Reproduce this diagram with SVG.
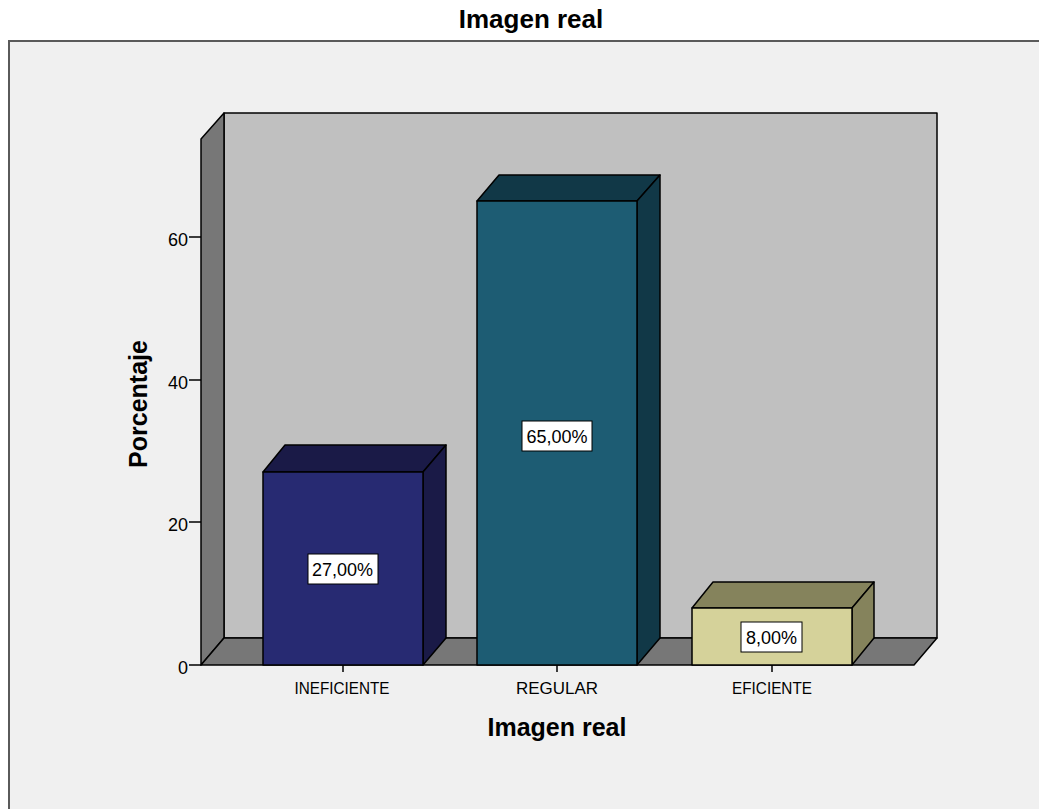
<svg xmlns="http://www.w3.org/2000/svg" width="1039" height="809" viewBox="0 0 1039 809">
<style>
text{font-family:"Liberation Sans",Arial,sans-serif;fill:#000}
.edge{stroke:#000;stroke-width:1.5;stroke-linejoin:round}
.tick{font-size:18px;text-anchor:end}
.cat{font-size:16.5px;text-anchor:middle}
.ttl{font-size:25px;font-weight:bold;text-anchor:middle}
.lbl{font-size:18px;text-anchor:middle}
.lblbox{fill:#fff;stroke:#000;stroke-width:1}
</style>
<rect width="1039" height="809" fill="#fff"/>
<rect x="9" y="41" width="1040" height="780" fill="#f0f0f0" stroke="#5a5a5a" stroke-width="2"/>
<text class="ttl" x="531" y="28" style="font-size:26px">Imagen real</text>
<g id="walls">
<polygon class="edge" points="224,113 937,113 937,638 224,638" fill="#c0c0c0"/>
<polygon class="edge" points="201,139 224,113 224,638 201,665" fill="#777"/>
<polygon class="edge" points="201,665 224,638 937,638 914,665" fill="#777"/>
</g>
<g id="axis-y">
<line x1="189" y1="665" x2="201" y2="665" stroke="#000" stroke-width="1.5"/>
<line x1="189" y1="522" x2="201" y2="522" stroke="#000" stroke-width="1.5"/>
<line x1="189" y1="380" x2="201" y2="380" stroke="#000" stroke-width="1.5"/>
<line x1="189" y1="237" x2="201" y2="237" stroke="#000" stroke-width="1.5"/>
<text class="tick" x="188" y="674">0</text>
<text class="tick" x="188" y="531">20</text>
<text class="tick" x="188" y="389">40</text>
<text class="tick" x="188" y="246">60</text>
<text class="ttl" transform="translate(147,404) rotate(-90)">Porcentaje</text>
</g>
<g id="bar-ineficiente">
<polygon class="edge" points="263,472 285,445 446,445 423,472" fill="#1a1a47"/>
<polygon class="edge" points="423,472 446,445 446,638 423,665" fill="#1a1a47"/>
<rect class="edge" x="263" y="472" width="160" height="193" fill="#272a72"/>
<rect class="lblbox" x="308" y="554" width="70" height="30"/>
<text class="lbl" x="342.5" y="576">27,00%</text>
</g>
<g id="bar-regular">
<polygon class="edge" points="477,201 499,175 660,175 637,201" fill="#113847"/>
<polygon class="edge" points="637,201 660,175 660,638 637,665" fill="#113847"/>
<rect class="edge" x="477" y="201" width="160" height="464" fill="#1d5c73"/>
<rect class="lblbox" x="522" y="421" width="70" height="30"/>
<text class="lbl" x="557" y="443">65,00%</text>
</g>
<g id="bar-eficiente">
<polygon class="edge" points="692,608 713,582 874,582 852,608" fill="#85835c"/>
<polygon class="edge" points="852,608 874,582 874,638 852,665" fill="#85835c"/>
<rect class="edge" x="692" y="608" width="160" height="57" fill="#d5d29a"/>
<rect class="lblbox" x="741" y="622" width="61" height="30"/>
<text class="lbl" x="771.5" y="644">8,00%</text>
</g>
<g id="axis-x">
<line x1="343" y1="665" x2="343" y2="672" stroke="#000" stroke-width="1.5"/>
<line x1="557" y1="665" x2="557" y2="672" stroke="#000" stroke-width="1.5"/>
<line x1="772" y1="665" x2="772" y2="672" stroke="#000" stroke-width="1.5"/>
<text class="cat" x="342" y="694" textLength="95" lengthAdjust="spacingAndGlyphs">INEFICIENTE</text>
<text class="cat" x="557" y="694" textLength="82" lengthAdjust="spacingAndGlyphs">REGULAR</text>
<text class="cat" x="772" y="694" textLength="80" lengthAdjust="spacingAndGlyphs">EFICIENTE</text>
<text class="ttl" x="557" y="736">Imagen real</text>
</g>
</svg>
